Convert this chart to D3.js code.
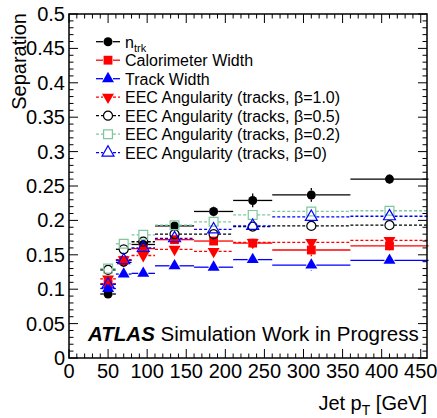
<!DOCTYPE html>
<html>
<head>
<meta charset="utf-8">
<script src="https://cdn.jsdelivr.net/npm/d3@7"></script>
<style>
body{margin:0;background:#fff;}
text{font-family:"Liberation Sans",Arial,Helvetica,sans-serif;}
</style>
</head>
<body>
<script>
const WIDTH=437, HEIGHT=418;
const margin={left:69,right:10,top:14,bottom:60};
const MAJOR=9, MINOR=4.5;

// bin edges (GeV)
const binLo=[40,60,80,110,160,210,260,360];
const binHi=[60,80,110,160,210,260,360,460];
// separation values
const ntrk      =[0.093,0.139,0.165,0.192,0.213,0.229,0.237,0.260];
const caloWidth =[0.108,0.142,0.159,0.172,0.170,0.167,0.157,0.163];
const trackWidth=[0.101,0.122,0.123,0.134,0.132,0.143,0.135,0.142];
const eec10     =[0.115,0.143,0.149,0.158,0.155,0.168,0.168,0.171];
const eec05     =[0.128,0.158,0.169,0.180,0.180,0.191,0.192,0.193];
const eec02     =[0.130,0.166,0.179,0.193,0.198,0.208,0.213,0.214];
const eec00     =[0.107,0.142,0.160,0.174,0.187,0.192,0.205,0.206];
// stat. errors
const ntrkErr  =[0.004,0.004,0.004,0.005,0.007,0.010,0.010,0.007];
const caloErr  =[0.004,0.004,0.004,0.004,0.005,0.007,0.009,0.007];
const trackErr =[0.003,0.003,0.003,0.004,0.005,0.006,0.008,0.006];
const eec10Err =[0.004,0.004,0.004,0.005,0.006,0.006,0.007,0.007];
const eec05Err =[0.003,0.003,0.003,0.003,0.003,0.003,0.003,0.003];
const eec02Err =[0.003,0.003,0.003,0.003,0.003,0.003,0.003,0.003];
const eec00Err =[0.003,0.003,0.003,0.003,0.003,0.003,0.003,0.003];

const yTicks=[0,0.05,0.1,0.15,0.2,0.25,0.3,0.35,0.4,0.45,0.5];
const xTicks=[0,50,100,150,200,250,300,350,400,450];

const series=[
  {name:"n",sub:"trk",vals:ntrk,err:ntrkErr,color:"#000",shape:"circle",open:false,dash:null},
  {name:"Calorimeter Width",vals:caloWidth,err:caloErr,color:"#f00",shape:"square",open:false,dash:null},
  {name:"Track Width",vals:trackWidth,err:trackErr,color:"#00f",shape:"triangle",open:false,dash:null},
  {name:"EEC Angularity (tracks, \u03b2=1.0)",vals:eec10,err:eec10Err,color:"#f00",shape:"triangleDown",open:false,dash:"3,2"},
  {name:"EEC Angularity (tracks, \u03b2=0.5)",vals:eec05,err:eec05Err,color:"#000",shape:"circle",open:true,dash:"3,2"},
  {name:"EEC Angularity (tracks, \u03b2=0.2)",vals:eec02,err:eec02Err,color:"#7fc79f",shape:"square",open:true,dash:"3,2"},
  {name:"EEC Angularity (tracks, \u03b2=0)",vals:eec00,err:eec00Err,color:"#00f",shape:"triangle",open:true,dash:"3,2"}
];

const svg=d3.select("body").append("svg").attr("width",WIDTH).attr("height",HEIGHT);

const x=d3.scaleLinear().domain([0,458]).range([margin.left,WIDTH-margin.right]);
const y=d3.scaleLinear().domain([0,0.5]).range([HEIGHT-margin.bottom,margin.top]);

function symPath(shape){
  if(shape==="circle") return d3.symbol(d3.symbolCircle,64)();
  if(shape==="square") return d3.symbol(d3.symbolSquare,78)();
  return d3.symbol(d3.symbolTriangle,62)();
}
function markerHalf(shape){ return shape==="circle"?4.5:(shape==="square"?4.5:5); }

function drawMarker(g,s,cx,cy){
  let p=g.append("path").attr("d",symPath(s.shape))
    .attr("transform",`translate(${cx},${cy})`+(s.shape==="triangleDown"?" rotate(180)":""));
  if(s.open) p.attr("fill","none").attr("stroke",s.color).attr("stroke-width",1.2);
  else p.attr("fill",s.color);
}

// data
const gData=svg.append("g");
series.forEach(s=>{
  let g=gData.append("g");
  let h=markerHalf(s.shape);
  s.vals.forEach((v,i)=>{
    let cx=x((binLo[i]+binHi[i])/2), cy=y(v);
    let segs=[[x(binLo[i]),cy,cx-h,cy],[cx+h,cy,x(binHi[i]),cy]];
    let e1=y(v+s.err[i]), e2=y(v-s.err[i]);
    if(cy-e1>h) segs.push([cx,e1,cx,cy-h]);
    if(e2-cy>h) segs.push([cx,cy+h,cx,e2]);
    segs.forEach(d=>{
      g.append("line").attr("x1",d[0]).attr("y1",d[1]).attr("x2",d[2]).attr("y2",d[3])
        .attr("stroke",s.color).attr("stroke-width",1.3)
        .attr("stroke-dasharray",s.dash);
    });
    drawMarker(g,s,cx,cy);
  });
});

// frame and ticks
const x0=x.range()[0],x1=x.range()[1],y0=y.range()[0],y1=y.range()[1];
const gAx=svg.append("g").attr("stroke","#000").attr("stroke-width",1);
for(let t=0;t<=0.5001;t+=0.01){
  let major=Math.abs(t/0.05-Math.round(t/0.05))<1e-6;
  let len=major?MAJOR:MINOR;
  gAx.append("line").attr("x1",x0).attr("x2",x0+len).attr("y1",y(t)).attr("y2",y(t));
  gAx.append("line").attr("x1",x1).attr("x2",x1-len).attr("y1",y(t)).attr("y2",y(t));
}
for(let t=0;t<=458;t+=10){
  let len=(t%50===0)?MAJOR:MINOR;
  gAx.append("line").attr("y1",y0).attr("y2",y0-len).attr("x1",x(t)).attr("x2",x(t));
  gAx.append("line").attr("y1",y1).attr("y2",y1+len).attr("x1",x(t)).attr("x2",x(t));
}
svg.append("rect").attr("x",x0).attr("y",y1).attr("width",x1-x0).attr("height",y0-y1)
  .attr("fill","none").attr("stroke","#000").attr("stroke-width",1.5);

// tick labels
svg.append("g").selectAll("text").data(yTicks).enter().append("text")
  .attr("x",x0-4).attr("y",d=>y(d)+7).attr("text-anchor","end")
  .attr("font-size",20).text(d=>d===0?"0":String(d));
svg.append("g").selectAll("text").data(xTicks).enter().append("text")
  .attr("x",d=>x(d)).attr("y",y0+20).attr("text-anchor","middle")
  .attr("font-size",20).text(d=>d);

// axis titles
svg.append("text").attr("transform",`translate(26,${y1-1}) rotate(-90)`)
  .attr("text-anchor","end").attr("font-size",20).text("Separation");
let xt=svg.append("text").attr("x",x1).attr("y",410).attr("text-anchor","end").attr("font-size",20);
xt.append("tspan").text("Jet p");
xt.append("tspan").attr("font-size",14).attr("dy",5).text("T");
xt.append("tspan").attr("dy",-5).text(" [GeV]");

// ATLAS label
let at=svg.append("text").attr("x",88).attr("y",341).attr("font-size",20.5);
at.append("tspan").attr("font-weight","bold").attr("font-style","italic").text("ATLAS");
at.append("tspan").text(" Simulation Work in Progress");

// legend
const gLeg=svg.append("g");
series.forEach((s,i)=>{
  let cy=41.7+i*18.5;
  gLeg.append("line").attr("x1",96).attr("x2",103).attr("y1",cy).attr("y2",cy)
    .attr("stroke",s.color).attr("stroke-width",1.3).attr("stroke-dasharray",s.dash);
  gLeg.append("line").attr("x1",113).attr("x2",120).attr("y1",cy).attr("y2",cy)
    .attr("stroke",s.color).attr("stroke-width",1.3).attr("stroke-dasharray",s.dash);
  drawMarker(gLeg,s,108,cy);
  let t=gLeg.append("text").attr("x",125).attr("y",cy+6).attr("font-size",16);
  t.append("tspan").text(s.name);
  if(s.sub) t.append("tspan").attr("font-size",11).attr("dy",4).text(s.sub);
});
</script>
</body>
</html>
